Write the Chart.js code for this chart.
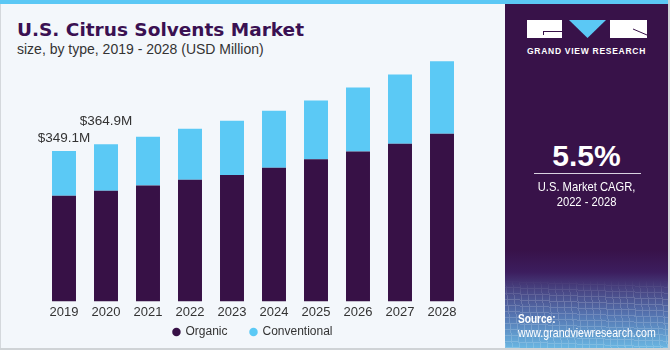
<!DOCTYPE html>
<html>
<head>
<meta charset="utf-8">
<script src="https://cdn.jsdelivr.net/npm/chart.js@4"></script>
<style>
  html,body{margin:0;padding:0;background:#fff;}
  #frame{position:relative;width:670px;height:350px;overflow:hidden;background:#f3f7fb;}
  #topbar{position:absolute;left:0;top:0;width:670px;height:4px;background:#5bc8f5;}
  #lborder{position:absolute;left:0;top:4px;width:1px;height:346px;background:#d4d8dc;}
  #bborder{position:absolute;left:0;top:348px;width:670px;height:2px;background:#cfd3d6;}
  #rborder{position:absolute;left:668px;top:0;width:2px;height:350px;background:#cfd3d6;}
  #chartBox{position:absolute;left:0;top:0;width:505px;height:349px;}
  #title{position:absolute;left:17px;top:20.5px;font:bold 18.5px/1 "DejaVu Sans",sans-serif;color:#3a1152;white-space:nowrap;}
  #subtitle{position:absolute;left:17px;top:42px;font:14px/1 "Liberation Sans",Arial,sans-serif;color:#333;white-space:nowrap;}
  #panel{position:absolute;left:505px;top:4px;width:163px;height:344px;overflow:hidden;
    background:linear-gradient(to bottom,#381249 0,#381249 246px,#3c1d5e 268px,#47417f 284px,#5576b2 312px,#6ab6e2 344px);}
  #mesh{position:absolute;left:0;top:276px;width:163px;height:68px;opacity:.16;
    -webkit-mask-image:linear-gradient(to bottom,transparent 0,#000 30%);
    background:
      repeating-linear-gradient(84deg,#fff 0 1px,transparent 1px 7px),
      repeating-linear-gradient(2deg,#fff 0 1px,transparent 1px 6px);}
  .pt{position:absolute;left:0;width:163px;text-align:center;color:#fff;white-space:nowrap;}
  #brand{top:43px;left:22px;width:auto;font:bold 8.5px/1 "Liberation Sans",Arial,sans-serif;letter-spacing:.72px;}
  #cagr{top:137px;font:bold 30px/1 "Liberation Sans",Arial,sans-serif;}
  #rule{position:absolute;left:29px;top:169px;width:107px;height:1px;background:#d9d2e0;}
  #cagrTxt{top:175px;font:13.5px/15px "Liberation Sans",Arial,sans-serif;transform:scaleX(.83);transform-origin:82px 0;}
  #src{position:absolute;left:13px;top:309px;color:#fff;white-space:nowrap;font:bold 12px/1 "Liberation Sans",Arial,sans-serif;transform:scaleX(.84);transform-origin:0 0;}
  #url{position:absolute;left:13px;top:322px;color:#fff;white-space:nowrap;font:13px/1 "Liberation Sans",Arial,sans-serif;transform:scaleX(.815);transform-origin:0 0;}
</style>
</head>
<body>
<div id="frame">
  <div id="topbar"></div>
  <div id="title">U.S. Citrus Solvents Market</div>
  <div id="subtitle">size, by type, 2019 - 2028 (USD Million)</div>
  <div id="chartBox"><canvas id="c"></canvas></div>
  <div id="panel">
    <div id="mesh"></div>
    <svg style="position:absolute;left:22px;top:16px" width="121" height="19" viewBox="0 0 121 19">
      <rect x="0" y="0" width="35" height="18" fill="#fff"/>
      <path d="M16 11.5 H35 M16.5 11.5 V15" stroke="#381249" stroke-width="1" fill="none"/>
      <polygon points="42,0 79,0 60.5,18" fill="#5bc8f5"/>
      <rect x="83" y="0" width="37" height="18" fill="#fff"/>
      <path d="M106 9 L120 15" stroke="#381249" stroke-width="1" fill="none"/>
    </svg>
    <div class="pt" id="brand">GRAND VIEW RESEARCH</div>
    <div class="pt" id="cagr">5.5%</div>
    <div id="rule"></div>
    <div class="pt" id="cagrTxt">U.S. Market CAGR,<br>2022 - 2028</div>
    <div id="src">Source:</div>
    <div id="url">www.grandviewresearch.com</div>
  </div>
  <div id="lborder"></div>
  <div id="rborder"></div>
  <div id="bborder"></div>
</div>
<script>
const years = ['2019','2020','2021','2022','2023','2024','2025','2026','2027','2028'];
const organic = [245.2, 256.9, 269.2, 282.5, 293.5, 310.6, 329.9, 347.9, 365.9, 389.2];
const conventional = [103.9, 108.0, 113.0, 118.4, 126.1, 132.3, 136.4, 148.8, 161.1, 168.2];
const totalLabels = ['$349.1M', '$364.9M'];

const sans = '"Liberation Sans", Arial, sans-serif';

// value labels over the first two stacks
const totalsPlugin = {
  id:'totals',
  afterDatasetsDraw(chart){
    const ctx = chart.ctx;
    const top = chart.getDatasetMeta(1);
    const lift = [9.5, 19];
    ctx.save();
    ctx.font = '13.5px ' + sans;
    ctx.fillStyle = '#333';
    ctx.textAlign = 'center';
    ctx.textBaseline = 'alphabetic';
    totalLabels.forEach((t,i)=>{
      const bar = top.data[i];
      ctx.fillText(t, bar.x, bar.y - lift[i]);
    });
    ctx.restore();
  }
};

new Chart(document.getElementById('c').getContext('2d'), {
  type:'bar',
  data:{
    labels: years,
    datasets:[
      { label:'Organic', data:organic, backgroundColor:'#371146', barPercentage:0.571, categoryPercentage:1 },
      { label:'Conventional', data:conventional, backgroundColor:'#5bc9f5', barPercentage:0.571, categoryPercentage:1 }
    ]
  },
  options:{
    responsive:true, maintainAspectRatio:false, animation:false, devicePixelRatio:1,
    layout:{ padding:{ left:43, right:42, top:43, bottom:1 } },
    plugins:{
      tooltip:{ enabled:false },
      legend:{
        position:'bottom',
        labels:{
          usePointStyle:true, pointStyle:'circle', boxWidth:6, boxHeight:6, padding:3,
          color:'#333', font:{ family:sans, size:12 },
          generateLabels:(chart)=>{
            const items = Chart.defaults.plugins.legend.labels.generateLabels(chart);
            return items.map((it,i)=>({ ...it, text: i < items.length-1 ? it.text + '      ' : it.text }));
          }
        }
      }
    },
    scales:{
      x:{ stacked:true, grid:{ display:false, drawTicks:false }, border:{ display:false },
          ticks:{ color:'#333', padding:3, font:{ family:sans, size:13 } } },
      y:{ stacked:true, display:false, min:0, max:600 }
    }
  },
  plugins:[totalsPlugin]
});
</script>
</body>
</html>
